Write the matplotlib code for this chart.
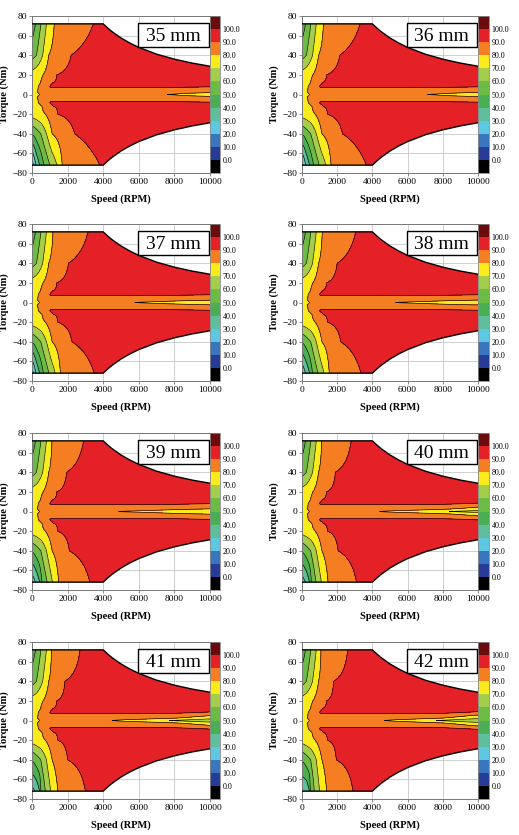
import numpy as np
import matplotlib
matplotlib.use("Agg")
import matplotlib.pyplot as plt
from matplotlib.patches import Polygon, Rectangle

plt.rcParams['font.family'] = ['Liberation Serif', 'DejaVu Serif']

labels = ["35 mm", "36 mm", "37 mm", "38 mm", "39 mm", "40 mm", "41 mm", "42 mm"]
levels = [-10, 0, 10, 20, 30, 40, 50, 60, 70, 80, 90, 100, 110]
level_colors = ['#000000', '#263c98', '#3a76be', '#5ec8e2', '#5fbf9d', '#4bae55',
                '#6cbb45', '#a3cd4a', '#faec1c', '#f47e21', '#e42127', '#6b0b0d']
cbar_ticks = [0, 10, 20, 30, 40, 50, 60, 70, 80, 90, 100]
speed_ticks = [0, 2000, 4000, 6000, 8000, 10000]
torque_ticks = [-80, -60, -40, -20, 0, 20, 40, 60, 80]

# torque limit (motoring side, braking side is the mirror)
env_speed = [0, 4000, 4250, 4500, 5000, 5500, 6000, 7000, 8000, 9000, 10000]
env_torque = [72, 72, 67.8, 64, 57.6, 52.4, 48, 41.1, 36, 32, 28.8]

# readings per panel (35 ... 42 mm)
red_top = [3450, 3300, 3150, 3050, 2900, 2800, 2700, 2600]   # 90 % line at +72 Nm
red_t40 = [2200, 2150, 2050, 2000, 1950, 1900, 1850, 1800]   # 90 % line at +40 Nm
red_b40 = [2400, 2300, 2250, 2200, 2100, 2050, 2000, 1950]   # 90 % line at -40 Nm
red_bot = [3800, 3650, 3500, 3350, 3250, 3100, 3000, 2900]   # 90 % line at -72 Nm
yel_top = [1250, 1220, 1180, 1150, 1120, 1120, 1100, 1080]   # 80 % line at +72 Nm
yel_bot = [1700, 1650, 1600, 1550, 1500, 1480, 1450, 1400]   # 80 % line at -72 Nm
bot70 = [1400, 1350, 1300, 1250, 1150, 1100, 1050, 1000]
bot60 = [1000, 980, 950, 900, 850, 800, 750, 700]
bot50 = [680, 660, 640, 600, 560, 530, 500, 470]
corner = [13, 16, 14, 21, 23, 24, 26, 30]                   # eff. at 0 rpm, -72 Nm
core = [75, 74, 73, 73, 72, 66, 63, 62]                     # eff. at 10000 rpm, 0 Nm
core_start = [8000, 7500, 6000, 5500, 5000, 4500, 4600, 4800]
row2_8k = [83, 83, 82.5, 82, 81.5, 81, 80.5, 80]
row2_end = [81.5, 81, 80.5, 80, 79.5, 76, 74, 72]
row5_end = [86, 86, 85, 85, 84, 81, 80, 78]
row8_end = [90.3, 90.3, 90.2, 90.2, 90, 89.5, 89.3, 89]


def rows_for(k):
    # efficiency profiles along constant-torque rows: (speeds, efficiencies)
    r8 = ([0, 200, 350, 900, 1050, 8000, 10000], [75, 77, 80, 88, 91, 91, row8_end[k]])
    r5 = ([0, 200, 330, 700, 1000, 6000, 8000, 10000], [75, 78, 80, 85, 87, 88, 87, row5_end[k]])
    r2 = ([0, 200, 300, 600, 1000, 4000, 6000, 8000, 10000],
          [75, 78, 80, 84, 86, 86, 85, row2_8k[k], row2_end[k]])
    return {
        72: ([0, 200, 500, 810, yel_top[k], red_top[k], 10000], [44, 50, 60, 70, 80, 90, 93]),
        40: ([0, 250, 600, 940, red_t40[k], 3500, 10000], [56, 60, 70, 80, 90, 93, 94]),
        20: ([0, 620, 1400, 2500, 10000], [74, 80, 90, 92.5, 93]),
        12: ([0, 250, 480, 1000, 1150, 2000, 10000], [74, 77, 80, 88, 90, 92, 93]),
        8: r8, 5: r5, 2.5: r2,
        0: ([0, 200, 420, 700, 1000, 3500, core_start[k], 10000],
            [73, 76, 80, 84, 86, 85, 79.5, core[k]]),
        -2.5: r2, -5: r5, -8: r8,
        -12: ([0, 300, 560, 1000, 1200, 2000, 10000], [73, 77, 80, 88, 90, 92, 93]),
        -20: ([0, 750, 1450, 2500, 10000], [74, 80, 90, 92.5, 93]),
        -40: ([0, 100, 490, 810, 1130, red_b40[k], 3500, 10000], [51, 52, 60, 70, 80, 90, 93, 94]),
        -72: ([0, 250, 430, bot50[k], bot60[k], bot70[k], yel_bot[k], red_bot[k], 10000],
              [corner[k], 32, 40, 50, 60, 70, 80, 90, 93]),
    }


fig = plt.figure(figsize=(5.19, 8.35), dpi=100)
W, H = 519, 835
col_x = [(32, 178, 210, 10), (302, 176, 478, 11)]
row_bottom = [173, 381, 590, 799]
xs = np.linspace(0, 10000, 501)

# envelope polygon
up = list(zip(env_speed, env_torque))
lo = [(s, -t) for s, t in zip(env_speed, env_torque)][::-1]
env_verts = up + lo

for k, lab in enumerate(labels):
    r, c = divmod(k, 2)
    x0, w, cx, cw = col_x[c]
    yb = 1 - row_bottom[r] / H
    ax = fig.add_axes([x0 / W, yb, w / W, 157 / H])
    cax = fig.add_axes([cx / W, yb, cw / W, 157 / H])

    prof = rows_for(k)
    ts = sorted(prof.keys())
    Z = np.array([np.interp(xs, prof[t][0], prof[t][1]) for t in ts])

    cs = ax.contourf(xs, ts, Z, levels=levels, colors=level_colors, zorder=1)
    cl = ax.contour(xs, ts, Z, levels=levels[1:-1], colors='k', linewidths=0.45, zorder=2)
    clip = Polygon(env_verts, closed=True, transform=ax.transData)
    cs.set_clip_path(clip)
    cl.set_clip_path(clip)
    ax.plot(env_speed, env_torque, color='k', lw=1.0, zorder=3)
    ax.plot(env_speed, [-t for t in env_torque], color='k', lw=1.0, zorder=3)

    ax.set_xlim(0, 10000)
    ax.set_ylim(-80, 80)
    ax.set_xticks(speed_ticks)
    ax.set_yticks(torque_ticks)
    ax.set_axisbelow(True)
    ax.grid(True, color='#c8c8c8', lw=0.6)
    ax.tick_params(labelsize=6.8, length=2, width=0.6, pad=1.5, color='#777777')
    for sp in ax.spines.values():
        sp.set_color('#777777')
        sp.set_linewidth(0.7)
    ax.set_xlabel("Speed (RPM)", fontsize=7.6, fontweight='bold', labelpad=6)
    ax.set_ylabel("Torque (Nm)", fontsize=7.6, fontweight='bold', labelpad=2)

    ax.add_patch(Rectangle((0.596, 0.803), 0.398, 0.152, transform=ax.transAxes,
                           fc='white', ec='black', lw=1.0, zorder=5))
    ax.text(0.795, 0.872, lab, transform=ax.transAxes, ha='center', va='center',
            fontsize=14, zorder=6)

    cb = fig.colorbar(cs, cax=cax, ticks=cbar_ticks, format='%.1f')
    cb.ax.tick_params(labelsize=5.8, length=0, pad=2)
    cb.outline.set_edgecolor('#888888')
    cb.outline.set_linewidth(0.6)

fig.savefig("out.png", dpi=100)
